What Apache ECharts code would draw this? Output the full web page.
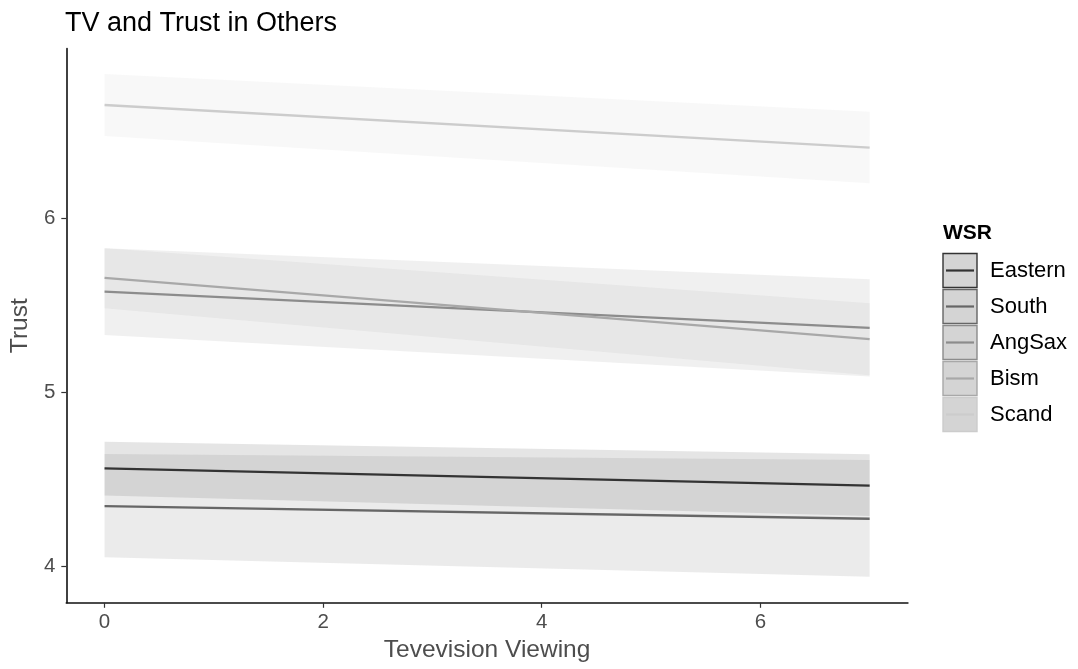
<!DOCTYPE html>
<html>
<head>
<meta charset="utf-8">
<title>TV and Trust in Others</title>
<script src="https://cdn.jsdelivr.net/npm/echarts@6/dist/echarts.min.js"></script>
<style>
  html, body { margin: 0; padding: 0; background: #fff; }
  #chart { width: 1078px; height: 669px; }
</style>
</head>
<body>
<div id="chart"></div>
<script>
// Predicted trust by hours of TV viewing, per welfare-state regime (WSR)
const groups = ['Eastern', 'South', 'AngSax', 'Bism', 'Scand'];
const tvViewing = [0, 7];

// fitted values
const fitEastern = [4.563, 4.464];
const fitSouth   = [4.346, 4.273];
const fitAngSax  = [5.578, 5.370];
const fitBism    = [5.657, 5.305];
const fitScand   = [6.651, 6.406];

// confidence band, lower limits
const lowerEastern = [4.406, 4.289];
const lowerSouth   = [4.052, 3.940];
const lowerAngSax  = [5.329, 5.090];
const lowerBism    = [5.483, 5.098];
const lowerScand   = [6.473, 6.201];

// confidence band, upper limits
const upperEastern = [4.716, 4.644];
const upperSouth   = [4.645, 4.611];
const upperAngSax  = [5.828, 5.649];
const upperBism    = [5.828, 5.511];
const upperScand   = [6.829, 6.613];

const xTicks = [0, 2, 4, 6];
const yTicks = [4, 5, 6];

const fits   = [fitEastern, fitSouth, fitAngSax, fitBism, fitScand];
const lowers = [lowerEastern, lowerSouth, lowerAngSax, lowerBism, lowerScand];
const uppers = [upperEastern, upperSouth, upperAngSax, upperBism, upperScand];

// grey scale shared by lines and ribbons
const greys = [51, 102, 140, 168, 204];
const lineColor = g => `rgb(${g},${g},${g})`;
const bandColor = g => `rgba(${g},${g},${g},0.13)`;

const FONT = '"Liberation Sans", Arial, Helvetica, sans-serif';

const chart = echarts.init(document.getElementById('chart'), null, { renderer: 'canvas' });

// ribbons: one polygon per group, built from the band arrays through the axis scales
const bandSeries = groups.map((name, gi) => ({
  type: 'custom',
  name: name + ' band',
  silent: true,
  z: 1,
  animation: false,
  data: tvViewing.map((x, i) => [x, lowers[gi][i], uppers[gi][i]]),
  encode: { x: 0, y: [1, 2] },
  renderItem: function (params, api) {
    if (params.dataIndex !== 0) return null;
    const top = tvViewing.map((x, i) => api.coord([x, uppers[gi][i]]));
    const bottom = tvViewing.map((x, i) => api.coord([x, lowers[gi][i]])).reverse();
    return {
      type: 'polygon',
      shape: { points: top.concat(bottom) },
      style: { fill: bandColor(greys[gi]) }
    };
  }
}));

const lineSeries = groups.map((name, gi) => ({
  type: 'line',
  name: name,
  silent: true,
  z: 3,
  animation: false,
  symbol: 'none',
  data: tvViewing.map((x, i) => [x, fits[gi][i]]),
  lineStyle: { color: lineColor(greys[gi]), width: 2.3 }
}));

// legend keys drawn as a block to the right of the panel
const keyX = 943, keyY0 = 253.5, keyPitch = 36, keySize = 34;
const legendGraphics = [{
  type: 'text',
  left: keyX, top: 223,
  style: { text: 'WSR', font: 'bold 21px ' + FONT, fill: '#000' }
}];
groups.forEach((name, gi) => {
  const y = keyY0 + gi * keyPitch;
  legendGraphics.push({
    type: 'rect',
    shape: { x: keyX, y: y, width: keySize, height: keySize },
    style: { fill: '#d4d4d4', stroke: lineColor(greys[gi]), lineWidth: 1.4 }
  });
  legendGraphics.push({
    type: 'line',
    shape: { x1: keyX + 3, y1: y + keySize / 2, x2: keyX + keySize - 3, y2: y + keySize / 2 },
    style: { stroke: lineColor(greys[gi]), lineWidth: 2.2 }
  });
  legendGraphics.push({
    type: 'text',
    x: 990, y: y + keySize / 2,
    style: { text: name, font: '22px ' + FONT, fill: '#000', textVerticalAlign: 'middle', verticalAlign: 'middle' }
  });
});

const option = {
  backgroundColor: '#ffffff',
  animation: false,
  textStyle: { fontFamily: FONT },
  title: {
    text: 'TV and Trust in Others',
    left: 65, top: 10, padding: 0,
    textStyle: { fontSize: 27, fontWeight: 'normal', color: '#000', fontFamily: FONT }
  },
  grid: { left: 64.4, right: 170.1, top: 48.65, bottom: 66.2, containLabel: false },
  xAxis: {
    type: 'value',
    min: -0.35, max: 7.35,
    name: 'Tevevision Viewing',
    nameLocation: 'middle',
    nameGap: 32,
    nameTextStyle: { fontSize: 24.5, color: '#4d4d4d', fontFamily: FONT },
    axisLine: { show: true, onZero: false, lineStyle: { color: '#111', width: 1.6 } },
    axisTick: { show: true, length: 5, customValues: xTicks, lineStyle: { color: '#333', width: 1.2 } },
    axisLabel: { customValues: xTicks, fontSize: 20.5, color: '#4d4d4d', margin: 9, fontFamily: FONT },
    splitLine: { show: false }
  },
  yAxis: {
    type: 'value',
    min: 3.79, max: 6.975,
    name: 'Trust',
    nameLocation: 'middle',
    nameGap: 31,
    nameRotate: 90,
    nameTextStyle: { fontSize: 24.5, color: '#4d4d4d', fontFamily: FONT },
    axisLine: { show: true, onZero: false, lineStyle: { color: '#111', width: 1.6 } },
    axisTick: { show: true, length: 5, customValues: yTicks, lineStyle: { color: '#333', width: 1.2 } },
    axisLabel: { customValues: yTicks, fontSize: 20.5, color: '#4d4d4d', margin: 11, fontFamily: FONT },
    splitLine: { show: false }
  },
  graphic: legendGraphics,
  series: bandSeries.concat(lineSeries)
};

chart.setOption(option);
</script>
</body>
</html>
